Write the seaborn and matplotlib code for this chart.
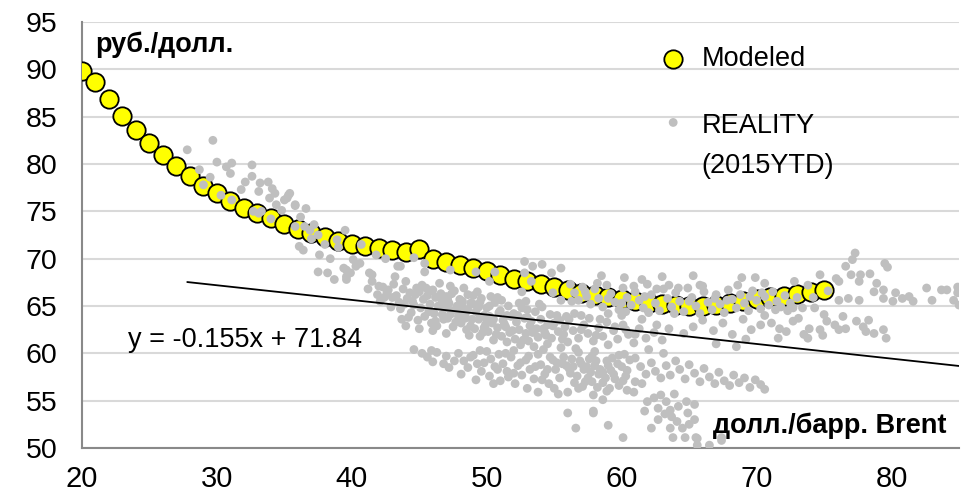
import matplotlib
matplotlib.use("Agg")
import matplotlib.pyplot as plt
from matplotlib.legend_handler import HandlerPathCollection
import pandas as pd
import seaborn as sns

# Модель: курс руб./долл. при цене Brent
model_brent = list(range(20, 76))
model_rub = [89.8, 88.7, 86.9, 85.1, 83.6, 82.2, 80.9, 79.8, 78.7, 77.7,
             76.9, 76.1, 75.4, 74.8, 74.3, 73.7, 73.1, 72.7, 72.3, 71.9,
             71.6, 71.3, 71.1, 70.9, 70.7, 71.0, 70.0, 69.6, 69.3, 69.0,
             68.7, 68.3, 67.9, 67.6, 67.3, 67.0, 66.7, 66.4, 66.2, 65.9,
             65.7, 65.5, 65.3, 65.2, 65.1, 65.0, 65.0, 65.1, 65.3, 65.5,
             65.7, 65.9, 66.1, 66.3, 66.5, 66.7]

# Факт 2015 (точки, по кластерам)
reality_upper_tail = [
    (27.8, 81.5), (28.7, 79.4), (29.0, 77.8), (29.7, 82.5), (30.0, 80.2), (30.7, 79.7),
    (31.1, 80.1), (31.0, 79.0), (31.1, 76.2), (30.3, 76.7), (32.6, 79.9), (32.6, 78.7),
    (32.1, 78.1), (33.2, 78.0), (33.8, 78.1), (34.1, 77.4), (34.3, 76.9), (33.9, 76.4),
    (33.1, 77.1), (35.3, 76.7), (35.0, 76.2), (34.4, 75.7), (34.8, 75.1), (35.8, 75.6),
    (36.6, 75.3), (32.7, 75.0), (33.3, 75.0), (35.4, 76.9), (35.2, 76.4), (35.8, 75.7),
    (33.1, 74.8), (35.8, 73.4), (36.5, 73.4), (36.9, 73.0), (37.5, 72.5), (36.1, 71.3),
    (36.4, 70.9), (37.6, 70.4), (38.4, 70.0), (37.5, 68.6), (38.2, 68.5), (38.9, 72.0),
    (39.5, 73.0), (40.1, 69.9), (40.3, 69.2), (39.6, 68.8), (40.6, 69.5), (41.3, 68.5),
    (39.6, 68.1), (43.2, 68.1), (40.7, 71.5), (43.4, 69.2), (38.7, 67.8), (39.4, 69.0),
    (39.9, 68.5), (39.6, 67.8), (41.5, 68.3), (41.5, 67.6), (42.0, 67.1), (43.6, 69.2),
    (37.0, 72.1), (38.0, 71.5), (39.0, 71.2), (41.8, 70.4), (42.5, 70.0), (44.6, 70.1),
    (36.2, 74.4), (37.2, 73.6), (34.0, 74.2), (31.8, 77.3), (29.5, 78.6),
]
reality_main = [
    (41.2, 66.8), (41.9, 66.2), (42.3, 67.0), (42.6, 66.4), (42.1, 65.5),
    (42.7, 66.7), (43.1, 67.3), (43.3, 66.1), (43.5, 65.4), (42.9, 64.9), (43.8, 66.8),
    (44.0, 67.6), (44.3, 66.4), (44.1, 65.8), (44.6, 65.1), (44.4, 64.3), (44.8, 66.9), (44.2, 63.8),
    (45.0, 66.5), (45.3, 65.7), (45.1, 64.8), (45.6, 66.1), (45.4, 63.9), (45.8, 65.2), (45.2, 67.2),
    (45.7, 64.4), (46.0, 66.7), (46.2, 65.9), (46.4, 65.0), (46.1, 64.2), (46.6, 66.3), (46.8, 63.6),
    (46.5, 67.4), (46.9, 64.8), (46.3, 62.9), (47.0, 66.0), (47.2, 65.3), (47.4, 64.5), (47.1, 63.7),
    (47.6, 66.6), (47.8, 65.0), (47.5, 62.8), (47.9, 63.9), (47.3, 67.1), (48.0, 65.7), (48.2, 64.9),
    (48.4, 64.1), (48.1, 63.2), (48.6, 66.2), (48.8, 65.3), (48.5, 62.5), (48.9, 63.6), (48.3, 66.9),
    (48.7, 61.9), (49.0, 65.2), (49.2, 64.4), (49.4, 63.6), (49.1, 62.6), (49.6, 65.8), (49.8, 64.0),
    (49.5, 61.8), (49.9, 63.0), (49.3, 66.5), (49.7, 62.2), (50.0, 64.8), (50.2, 63.9), (50.4, 63.2),
    (50.1, 62.3), (50.6, 65.4), (50.8, 62.7), (50.5, 61.4), (50.9, 64.3), (50.3, 66.0), (51.0, 64.5),
    (51.2, 63.5), (51.4, 62.8), (51.1, 61.8), (51.6, 65.0), (51.8, 63.9), (51.5, 61.2), (51.9, 62.4),
    (52.0, 64.2), (52.2, 63.3), (52.4, 62.5), (52.1, 61.5), (52.6, 64.8), (52.8, 63.7), (52.5, 60.9),
    (52.9, 62.1), (53.0, 63.8), (53.2, 62.9), (53.4, 62.2), (53.1, 61.3), (53.6, 64.4), (53.8, 61.7),
    (53.5, 60.7), (54.0, 63.6), (54.2, 62.6), (54.4, 61.9), (54.7, 64.1), (54.9, 62.9), (54.5, 61.0),
    (55.0, 63.2), (55.3, 62.3), (55.6, 61.5), (55.2, 64.0), (55.8, 62.8), (55.5, 60.6),
    (56.1, 63.6), (56.4, 62.4), (56.8, 61.6), (57.2, 63.0), (57.5, 62.1), (57.9, 61.3), (58.3, 62.7),
    (58.6, 61.8), (59.0, 60.9), (59.4, 62.4), (59.7, 61.5), (60.1, 63.0), (60.5, 62.0), (60.9, 61.1),
    (61.3, 62.6), (61.8, 61.6), (62.4, 62.2), (63.0, 61.4), (56.6, 60.5), (58.0, 60.2),
    (43.0, 65.9), (43.6, 64.7), (44.5, 65.5), (44.9, 63.5), (45.5, 66.9), (45.9, 63.2), (46.4, 66.0),
    (46.7, 64.1), (47.1, 65.7), (47.7, 63.3), (48.2, 65.5), (48.4, 63.7), (48.8, 62.9), (49.0, 66.1),
    (49.4, 64.9), (49.8, 62.7), (50.2, 65.0), (50.5, 63.6), (50.7, 62.0), (51.1, 65.6), (51.3, 63.1),
    (51.7, 62.2), (52.3, 64.0), (52.7, 61.4), (53.3, 63.4), (53.7, 62.6), (54.1, 64.9), (54.3, 62.2),
    (54.8, 61.6), (55.4, 63.5), (55.7, 62.0), (56.0, 61.2), (56.5, 64.2), (57.0, 62.5), (57.6, 63.7),
    (58.1, 61.9), (58.9, 63.3), (59.5, 62.8), (60.3, 62.5), (61.0, 62.0), (46.0, 62.4), (47.0, 62.1),
    (44.0, 62.9), (45.0, 62.6),
    (42.4, 65.9), (43.9, 65.2), (44.7, 66.2), (45.9, 66.6), (46.7, 65.5), (47.4, 66.3), (47.9, 64.4),
    (48.6, 64.6), (49.5, 65.4), (50.0, 63.5), (50.8, 65.9), (51.5, 64.0), (52.4, 65.3), (53.0, 64.6),
    (53.9, 65.2), (54.5, 63.0), (55.9, 63.9), (46.2, 63.4), (47.3, 64.1), (43.7, 63.6),
]
reality_lower = [
    (44.6, 60.4), (45.2, 60.0), (45.6, 59.6), (46.0, 59.1), (46.3, 60.1), (47.0, 59.7), (47.2, 58.5),
    (46.8, 58.9), (47.9, 60.0), (48.3, 59.2), (48.6, 58.5), (48.1, 57.8), (49.0, 59.8), (49.3, 58.9),
    (49.6, 58.1), (49.2, 57.2), (50.0, 60.2), (50.3, 59.4), (50.6, 58.6), (50.2, 57.6), (50.9, 59.9),
    (51.2, 58.9), (51.5, 58.1), (51.0, 57.1), (51.8, 59.6), (52.0, 60.3), (52.3, 58.7), (52.6, 57.7),
    (52.1, 56.8), (52.9, 59.3), (53.2, 58.3), (53.5, 57.3), (53.0, 56.3), (53.8, 59.9), (54.0, 58.8),
    (54.3, 57.8), (54.6, 56.8), (54.2, 60.4), (54.9, 59.3), (55.1, 58.3), (55.4, 57.4), (55.0, 56.3),
    (55.7, 59.6), (55.9, 58.7), (56.2, 57.9), (56.5, 56.9), (56.0, 55.9), (56.8, 60.1), (56.9, 59.2),
    (57.2, 58.3), (57.5, 57.4), (57.1, 56.5), (57.8, 59.7), (58.0, 58.7), (58.3, 57.8), (58.6, 56.9),
    (58.9, 59.2), (59.2, 58.2), (59.5, 57.3), (59.1, 56.3), (59.8, 59.8), (60.0, 58.6), (60.3, 57.6),
    (60.6, 59.3), (55.3, 55.7), (53.8, 55.9),
    (55.6, 58.9), (56.1, 58.4), (56.7, 57.6), (57.0, 58.9), (57.3, 57.0), (57.7, 58.0), (58.1, 59.2),
    (58.4, 58.3), (58.8, 57.4), (59.0, 58.7), (59.4, 57.8), (59.7, 58.9), (60.1, 57.1), (60.4, 58.2),
    (58.2, 56.4), (59.8, 56.6), (54.5, 58.3), (53.6, 58.6), (52.5, 59.0), (51.6, 57.5), (50.8, 58.3),
    (49.8, 59.0), (48.8, 59.6), (47.6, 59.2), (45.9, 60.3), (54.7, 59.6), (56.3, 59.4), (57.6, 59.4),
    (49.5, 60.3), (51.4, 60.0), (53.1, 59.7), (55.2, 59.0), (56.4, 58.6), (57.4, 58.6), (58.6, 58.0),
    (59.3, 59.5), (60.2, 59.9), (58.9, 56.0), (57.8, 57.0), (56.8, 56.3), (54.1, 57.2), (52.0, 57.9),
    (50.5, 56.8),
    (61.0, 59.5), (61.4, 58.6), (61.8, 57.8), (62.2, 59.0), (62.5, 58.1), (62.9, 57.4), (63.3, 58.7),
    (63.6, 57.7), (64.0, 59.2), (64.3, 58.3), (64.7, 57.3), (65.0, 58.8), (65.4, 57.9), (65.8, 57.0),
    (66.1, 58.4), (66.5, 57.5), (66.9, 56.8), (67.2, 58.0), (67.6, 57.1), (68.0, 56.6), (68.3, 57.7),
    (68.7, 56.9), (69.1, 57.4), (69.5, 56.4), (69.9, 57.2), (70.3, 56.7), (70.6, 56.2), (62.0, 60.4),
    (63.1, 60.0), (61.5, 56.8), (60.9, 55.9),
]
reality_bottom = [
    (56.0, 53.7), (56.6, 52.1), (57.9, 53.7), (59.0, 52.4), (60.1, 51.1), (57.9, 55.6), (58.6, 55.1),
    (57.9, 53.9), (60.4, 56.1), (61.7, 53.9), (62.2, 52.1), (62.7, 53.0), (63.6, 52.1), (63.8, 51.1),
    (64.5, 52.1), (64.7, 51.1), (65.4, 53.0), (65.5, 51.1), (65.6, 50.3), (66.5, 50.3), (67.4, 51.1),
    (61.9, 54.9), (62.7, 54.2), (63.3, 54.9), (63.6, 54.0), (63.7, 53.3), (64.9, 53.7), (65.4, 54.6),
    (64.8, 54.9), (62.9, 55.6), (63.9, 55.7), (62.4, 55.3), (64.2, 54.4), (63.2, 53.6), (64.1, 52.8),
    (65.0, 52.5), (61.0, 57.0), (65.6, 51.0), (67.4, 50.8),
]
reality_band = [
    (56.2, 67.3), (56.5, 66.4), (56.8, 65.6), (57.1, 67.0), (57.4, 66.0), (57.7, 65.2), (58.0, 66.8),
    (58.3, 65.8), (58.6, 64.9), (58.9, 67.2), (59.2, 66.3), (59.5, 65.4), (59.8, 64.6), (60.1, 66.9),
    (60.4, 65.9), (60.7, 65.1), (61.0, 66.5), (61.3, 65.6), (61.6, 64.8), (61.9, 67.3), (62.2, 66.2),
    (62.5, 65.3), (62.8, 64.5), (63.1, 66.8), (63.4, 65.8), (63.7, 64.9), (64.0, 66.4), (64.3, 65.5),
    (64.6, 64.4), (64.9, 66.9), (65.2, 65.9), (65.5, 65.0), (65.8, 64.2), (66.1, 66.5), (66.4, 65.4),
    (66.7, 64.6), (67.0, 66.2), (67.3, 65.2), (67.6, 64.3), (67.9, 66.7), (68.2, 65.7), (68.5, 64.8),
    (68.8, 66.2), (69.1, 65.3), (69.4, 64.5), (69.7, 66.6), (70.0, 65.6), (70.3, 64.7), (70.6, 66.0),
    (70.9, 65.1), (71.2, 66.5), (71.5, 65.5), (71.8, 64.9), (72.1, 66.1), (72.5, 65.3), (73.0, 65.9),
    (73.4, 64.8), (74.2, 65.9),
    (57.3, 66.5), (58.2, 67.4), (59.0, 65.8), (60.0, 65.3), (60.9, 67.1), (61.7, 66.0), (62.6, 66.8),
    (63.5, 67.2), (64.2, 66.9), (65.0, 65.5), (66.0, 67.1), (66.9, 65.8), (67.8, 65.6), (68.6, 67.2),
    (69.5, 66.0), (70.4, 66.4), (71.4, 64.6), (72.3, 64.5), (63.9, 64.2), (62.0, 64.3), (60.3, 64.4),
    (59.0, 64.2),
    (52.8, 69.7), (53.4, 69.2), (54.1, 69.4), (54.8, 68.5), (55.5, 69.0), (52.8, 68.5), (53.3, 67.6),
    (52.6, 66.5), (52.9, 65.5), (54.9, 66.4), (55.5, 65.6), (56.3, 65.5), (45.4, 69.5), (45.4, 68.6),
    (47.3, 68.8), (49.2, 68.6), (50.2, 67.6), (50.6, 68.6), (65.3, 68.2), (68.9, 68.0), (69.9, 68.0),
    (65.8, 67.2), (70.6, 67.4), (58.5, 68.2), (60.2, 68.0), (61.5, 67.8), (63.0, 68.1),
]
reality_right = [
    (57.0, 64.0), (58.4, 63.6), (60.0, 64.0), (61.5, 63.6), (62.6, 63.0), (63.5, 62.6), (64.6, 62.1),
    (65.3, 62.8), (66.0, 63.5), (66.8, 62.4), (67.5, 63.2), (68.2, 62.0), (69.0, 63.6), (69.6, 62.5),
    (70.3, 63.0), (71.1, 63.2), (71.7, 62.6), (72.2, 62.3), (71.6, 61.6), (72.7, 63.4), (72.7, 64.8),
    (73.1, 63.7), (73.9, 62.6), (73.8, 61.6), (74.3, 64.8), (74.7, 62.5), (75.2, 63.4), (75.8, 63.0),
    (76.1, 62.5), (76.6, 62.6), (77.4, 63.4), (77.9, 62.8), (78.1, 62.3), (78.7, 62.1), (79.4, 62.5),
    (79.6, 61.6), (75.0, 64.1), (76.4, 63.9), (78.3, 63.5), (73.5, 62.0), (74.9, 61.9), (70.6, 64.0),
    (69.2, 61.5), (67.0, 61.0), (68.5, 60.7),
    (77.3, 70.6), (77.1, 69.9), (76.6, 69.2), (79.5, 69.5), (79.7, 69.1), (77.0, 68.3), (77.7, 68.3),
    (78.4, 68.4), (77.6, 67.6), (78.9, 67.4), (76.1, 67.6), (75.9, 67.9), (74.7, 68.3), (78.7, 66.5),
    (79.4, 66.7), (79.4, 65.8), (80.3, 66.4), (80.8, 65.8), (81.3, 66.0), (81.6, 65.5), (80.1, 65.5),
    (77.6, 65.6), (76.8, 65.8), (76.1, 65.6), (82.6, 66.9), (83.0, 65.6), (83.7, 66.7), (84.1, 66.7),
    (84.9, 67.0), (84.9, 66.4), (84.6, 65.6), (85.0, 65.1), (75.3, 66.6), (73.8, 67.2), (72.8, 67.6),
]

# Линейный тренд по факту (из подписи на графике)
trend_slope = -0.155
trend_intercept = 71.84
trend_x = [27.8, 85.0]

x_ticks = [20, 30, 40, 50, 60, 70, 80]
y_ticks = [50, 55, 60, 65, 70, 75, 80, 85, 90, 95]

model_df = pd.DataFrame({"brent": model_brent, "rub": model_rub})
reality_df = pd.DataFrame(
    reality_upper_tail + reality_main + reality_lower + reality_bottom + reality_band + reality_right,
    columns=["brent", "rub"],
)
trend_df = pd.DataFrame({"brent": trend_x})
trend_df["rub"] = trend_slope * trend_df["brent"] + trend_intercept

sns.set_style("white")
plt.rcParams["font.family"] = ["Liberation Sans", "DejaVu Sans"]
plt.rcParams["text.color"] = "black"

AXIS_GREY = "#898989"

fig, ax = plt.subplots(figsize=(9.69, 4.93), dpi=100)
fig.subplots_adjust(left=82 / 969, right=959 / 969, bottom=45 / 493, top=471 / 493)

sns.scatterplot(data=model_df, x="brent", y="rub", ax=ax, s=175, color="#FFFF00",
                edgecolor="black", linewidth=1.3, zorder=3, label="Modeled")
sns.scatterplot(data=reality_df, x="brent", y="rub", ax=ax, s=40, color="#BFBFBF",
                edgecolor="none", linewidth=0, zorder=4, label="REALITY\n(2015YTD)")
sns.lineplot(data=trend_df, x="brent", y="rub", ax=ax, color="black", linewidth=1.3,
             zorder=5, legend=False)
reality_points = ax.collections[1]

ax.set_xlim(20, 85)
ax.set_ylim(50, 95)
ax.set_xticks(x_ticks)
ax.set_yticks(y_ticks)
ax.set_xlabel("")
ax.set_ylabel("")

ax.yaxis.grid(True, color="#D9D9D9", linewidth=1.5, zorder=0)
ax.xaxis.grid(False)
ax.set_axisbelow(True)
for side in ["top", "right"]:
    ax.spines[side].set_visible(False)
for side in ["left", "bottom"]:
    ax.spines[side].set_color(AXIS_GREY)
    ax.spines[side].set_linewidth(1.5)
ax.tick_params(axis="both", direction="out", length=6.5, width=1.5, color=AXIS_GREY,
               labelcolor="black")
ax.tick_params(axis="y", labelsize=20.5, pad=11)
ax.tick_params(axis="x", labelsize=21, pad=6)

ax.text(21.0, 92.6, "руб./долл.", fontsize=19.5, fontweight="bold", ha="left", va="center")
ax.text(84.1, 52.4, "долл./барр. Brent", fontsize=19.5, fontweight="bold", ha="right", va="center")
ax.text(23.4, 61.4, f"y = {trend_slope}x + {trend_intercept}", fontsize=19.5,
        ha="left", va="center")

# серая точка легенды стоит напротив первой строки подписи
leg = ax.legend(loc="upper left", bbox_to_anchor=(661 / 969, 1 - 46 / 493),
                bbox_transform=fig.transFigure, frameon=False, fontsize=19.5,
                handlelength=0.9, handletextpad=0.6, labelspacing=1.5,
                borderpad=0, borderaxespad=0,
                handler_map={reality_points: HandlerPathCollection(yoffsets=[1.75])})
for t in leg.get_texts():
    t.set_linespacing(1.7)

fig.savefig("out.png", dpi=100)
